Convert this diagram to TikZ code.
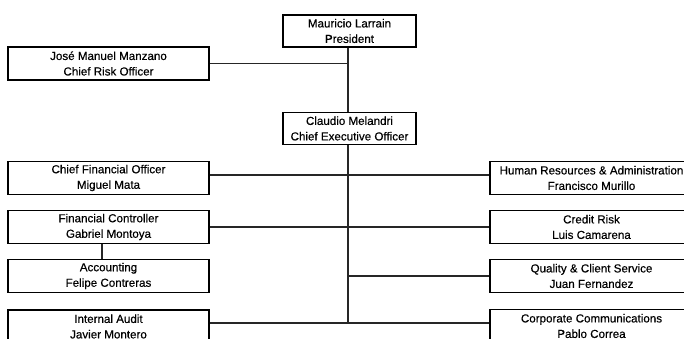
\documentclass[tikz,border=0pt]{standalone}
\usepackage{fontspec}
\setmainfont{Liberation Sans}
\newfontfamily\boxfont{Liberation Sans}[FakeBold=0.4]
\begin{document}
\begin{tikzpicture}[x=1pt,y=-1pt,
  box/.style={draw=black,line width=1.3pt,fill=white,align=center,inner sep=0pt,
    font=\boxfont\fontsize{11.6}{15.5}\selectfont,text=black},
  lbox/.style={box,minimum width=201pt,minimum height=33pt},
  rbox/.style={box,minimum width=203pt,minimum height=33pt},
  cbox/.style={box,minimum width=133pt,minimum height=32pt},
  link/.style={line width=1.3pt,draw=black!85}]
\useasboundingbox (0,0) rectangle (684,338);
\clip (0,0) rectangle (684,338);
% nodes
\node[cbox] (pres) at (349.5,31) {Mauricio Larrain\\President};
\node[lbox] (cro) at (108.5,63.5) {José Manuel Manzano\\Chief Risk Officer};
\node[cbox] (ceo) at (349.5,128.5) {Claudio Melandri\\Chief Executive Officer};
\node[lbox] (cfo) at (108.5,178) {Chief Financial Officer\\Miguel Mata};
\node[rbox] (hr) at (591.5,178) {Human Resources \& Administration\\Francisco Murillo};
\node[lbox] (fc) at (108.5,227) {Financial Controller\\Gabriel Montoya};
\node[rbox] (cr) at (591.5,227) {Credit Risk\\Luis Camarena};
\node[lbox] (acc) at (108.5,276) {Accounting\\Felipe Contreras};
\node[rbox] (qcs) at (591.5,276) {Quality \& Client Service\\Juan Fernandez};
\node[lbox] (ia) at (108.5,326.5) {Internal Audit\\Javier Montero};
\node[rbox] (cc) at (591.5,326) {Corporate Communications\\Pablo Correa};
% trunk
\coordinate (t1) at (348,63.5);
\coordinate (t2) at (348,276);
\coordinate (tb) at (348,323);
\draw[link] (pres.south -| t1) -- (ceo.north -| t1);
\draw[link] (ceo.south -| t1) -- (tb);
\draw[link] (cro.east) -- (t1);
\draw[link] ([yshift=3pt]cfo.east) -- ([yshift=3pt]hr.west);
\draw[link] (fc.east) -- (cr.west);
\draw[link] (t2) -- (qcs.west);
\draw[link] (ia.east |- tb) -- (cc.west |- tb);
\coordinate (fa) at (102,0);
\draw[link] (fc.south -| fa) -- (acc.north -| fa);
\end{tikzpicture}
\end{document}
